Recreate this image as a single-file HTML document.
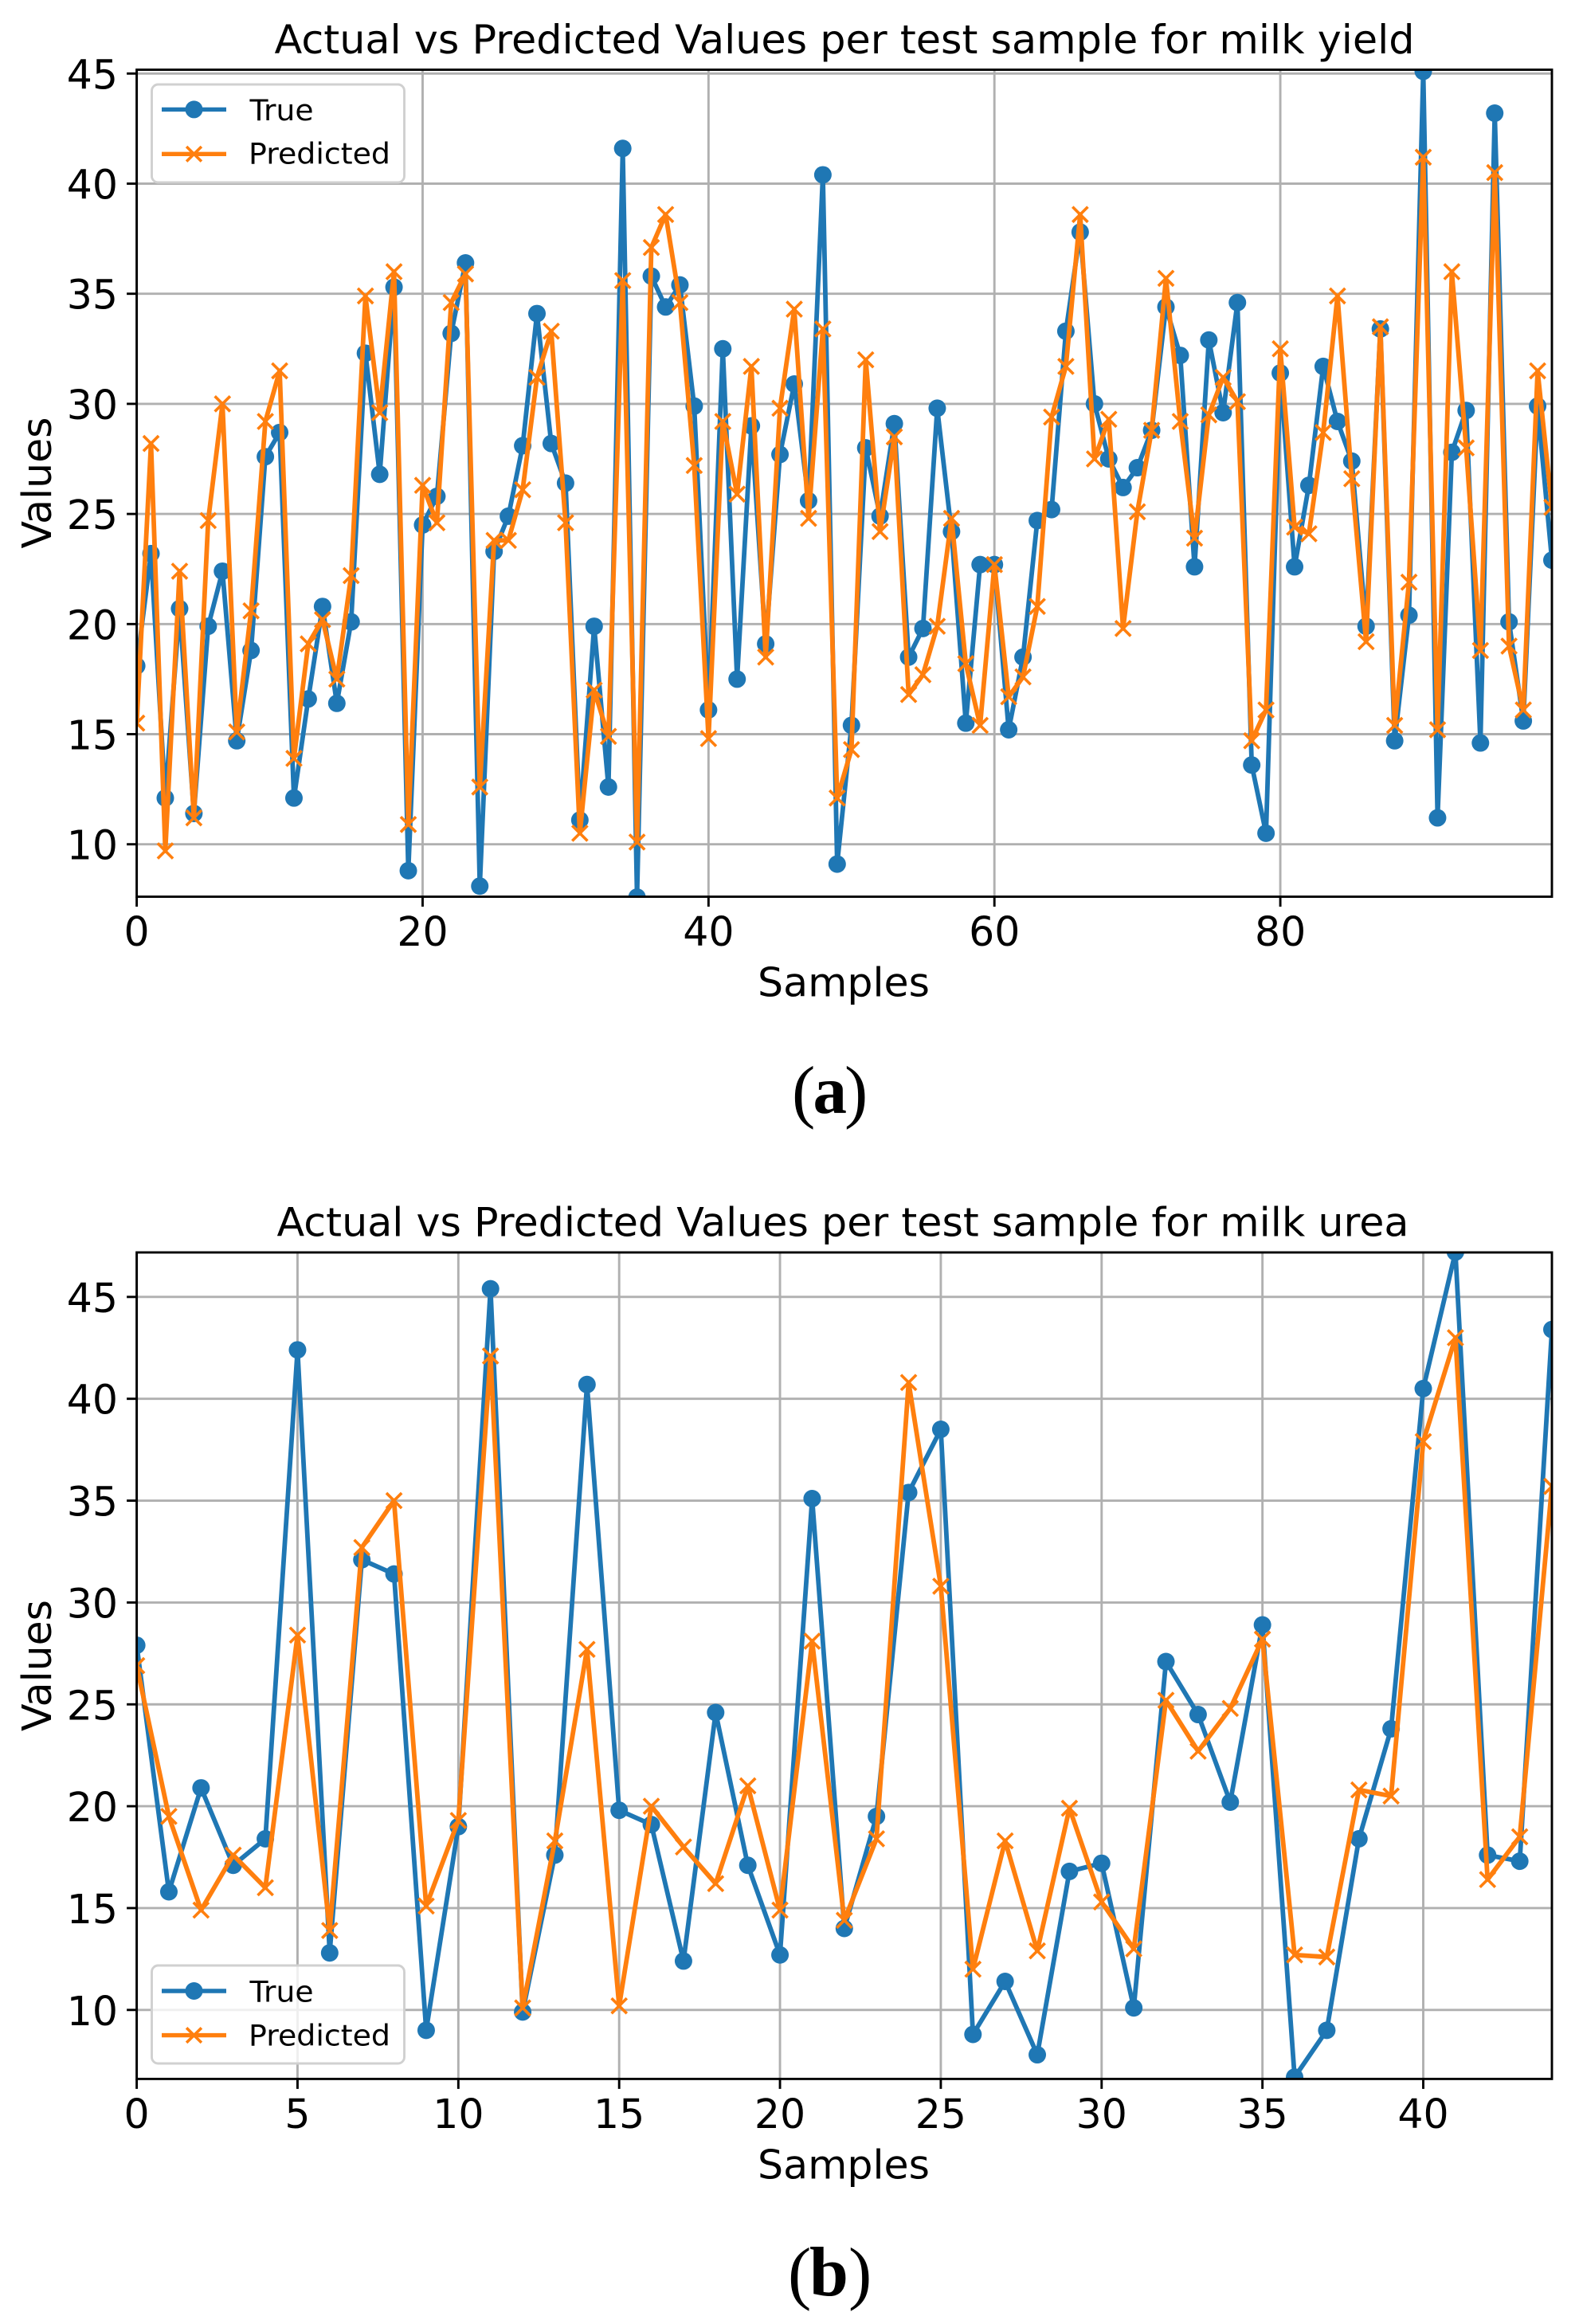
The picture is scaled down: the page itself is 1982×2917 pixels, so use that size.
<!DOCTYPE html>
<html lang="en">
<head>
<meta charset="utf-8">
<title>Actual vs Predicted Values</title>
<style>
html,body{margin:0;padding:0;background:#fff;}
svg{display:block;}
text{font-family:"DejaVu Sans",sans-serif;fill:#000;}
.cap{font-family:"Liberation Serif",serif;}
</style>
</head>
<body>
<svg id="fig" xmlns="http://www.w3.org/2000/svg" width="1982" height="2917" viewBox="0 0 1982 2917">
  <rect width="1982" height="2917" fill="#fff"/>
  <defs>
    <clipPath id="clip-a"><rect x="171.6" y="87.5" width="1776.4" height="1038"/></clipPath>
    <clipPath id="clip-b"><rect x="171.6" y="1572" width="1776.4" height="1037.4"/></clipPath>
  </defs>

  <g id="panel-a">
    <g id="a-grid"></g>
    <g id="a-marks" clip-path="url(#clip-a)"></g>
    <rect x="171.6" y="87.5" width="1776.4" height="1038" fill="none" stroke="#000" stroke-width="2.9"/>
    <g id="a-ticks"></g>
    <text x="1060" y="67" font-size="50" text-anchor="middle" textLength="1431" lengthAdjust="spacingAndGlyphs">Actual vs Predicted Values per test sample for milk yield</text>
    <text x="1059" y="1250.5" font-size="50" text-anchor="middle" textLength="216" lengthAdjust="spacingAndGlyphs">Samples</text>
    <text transform="translate(64 606) rotate(-90)" font-size="50.5" text-anchor="middle">Values</text>
    <g>
      <rect x="190.5" y="106" width="317" height="123" rx="8" fill="#fff" fill-opacity="0.8" stroke="#d0d0d0" stroke-width="2.9"/>
      <g>
        <line x1="203" x2="284" y1="137.4" y2="137.4" stroke="#1f77b4" stroke-width="5.4"/>
        <circle cx="243.5" cy="137.4" r="11" fill="#1f77b4"/>
        <text x="313.5" y="150.8" font-size="36.5" textLength="80" lengthAdjust="spacingAndGlyphs">True</text>
      </g>
      <g>
        <line x1="203" x2="284" y1="193.3" y2="193.3" stroke="#ff7f0e" stroke-width="5.4"/>
        <path d="M234.1 184 L252.9 202.6 M252.9 184 L234.1 202.6" stroke="#ff7f0e" stroke-width="3.6" fill="none"/>
        <text x="312" y="205.6" font-size="36.5" textLength="178" lengthAdjust="spacingAndGlyphs">Predicted</text>
      </g>
    </g>
  </g>
  <text class="cap"><tspan x="994" y="1399" font-size="88">(</tspan><tspan x="1020.5" y="1397" font-size="85" font-weight="bold">a</tspan><tspan x="1060" y="1399" font-size="88">)</tspan></text>

  <g id="panel-b">
    <g id="b-grid"></g>
    <g id="b-marks" clip-path="url(#clip-b)"></g>
    <rect x="171.6" y="1572" width="1776.4" height="1037.4" fill="none" stroke="#000" stroke-width="2.9"/>
    <g id="b-ticks"></g>
    <text x="1058" y="1551.4" font-size="50" text-anchor="middle" textLength="1421" lengthAdjust="spacingAndGlyphs">Actual vs Predicted Values per test sample for milk urea</text>
    <text x="1059" y="2734.6" font-size="50" text-anchor="middle" textLength="216" lengthAdjust="spacingAndGlyphs">Samples</text>
    <text transform="translate(64 2090.5) rotate(-90)" font-size="50.5" text-anchor="middle">Values</text>
    <g>
      <rect x="190.5" y="2467" width="317" height="123" rx="8" fill="#fff" fill-opacity="0.8" stroke="#d0d0d0" stroke-width="2.9"/>
      <g>
        <line x1="203" x2="284" y1="2499" y2="2499" stroke="#1f77b4" stroke-width="5.4"/>
        <circle cx="243.5" cy="2499" r="11" fill="#1f77b4"/>
        <text x="313.5" y="2512.5" font-size="36.5" textLength="80" lengthAdjust="spacingAndGlyphs">True</text>
      </g>
      <g>
        <line x1="203" x2="284" y1="2554.6" y2="2554.6" stroke="#ff7f0e" stroke-width="5.4"/>
        <path d="M234.1 2545.3 L252.9 2563.9 M252.9 2545.3 L234.1 2563.9" stroke="#ff7f0e" stroke-width="3.6" fill="none"/>
        <text x="312" y="2567.5" font-size="36.5" textLength="178" lengthAdjust="spacingAndGlyphs">Predicted</text>
      </g>
    </g>
  </g>
  <text class="cap"><tspan x="989" y="2882" font-size="88">(</tspan><tspan x="1016" y="2881" font-size="88" font-weight="bold">b</tspan><tspan x="1065" y="2882" font-size="88">)</tspan></text>
</svg>

<script>
const yieldTrue = [18.1,23.2,12.1,20.7,11.4,19.9,22.4,14.7,18.8,27.6,28.7,12.1,16.6,20.8,16.4,20.1,32.3,26.8,35.3,8.8,
  24.5,25.8,33.2,36.4,8.1,23.3,24.9,28.1,34.1,28.2,26.4,11.1,19.9,12.6,41.6,7.6,35.8,34.4,35.4,29.9,
  16.1,32.5,17.5,29.0,19.1,27.7,30.9,25.6,40.4,9.1,15.4,28.0,24.9,29.1,18.5,19.8,29.8,24.2,15.5,22.7,
  22.7,15.2,18.5,24.7,25.2,33.3,37.8,30.0,27.5,26.2,27.1,28.8,34.4,32.2,22.6,32.9,29.6,34.6,13.6,10.5,
  31.4,22.6,26.3,31.7,29.2,27.4,19.9,33.4,14.7,20.4,45.1,11.2,27.8,29.7,14.6,43.2,20.1,15.6,29.9,22.9];
const yieldPredicted = [15.5,28.2,9.7,22.4,11.2,24.7,30.0,15.1,20.6,29.2,31.5,13.9,19.1,20.2,17.5,22.2,34.9,29.6,36.0,10.9,
  26.3,24.6,34.6,35.9,12.6,23.8,23.8,26.1,31.2,33.3,24.6,10.5,17.0,14.9,35.6,10.1,37.1,38.6,34.6,27.2,
  14.8,29.2,25.9,31.7,18.5,29.8,34.3,24.8,33.4,12.1,14.3,32.0,24.2,28.5,16.8,17.7,19.9,24.8,18.2,15.4,
  22.7,16.7,17.6,20.8,29.4,31.7,38.6,27.5,29.3,19.8,25.1,28.8,35.7,29.2,23.9,29.5,31.2,30.1,14.7,16.1,
  32.5,24.4,24.1,28.7,34.9,26.6,19.2,33.5,15.4,21.9,41.2,15.2,36.0,28.0,18.8,40.5,19.0,16.1,31.5,25.3];
const ureaTrue = [27.9,15.8,20.9,17.1,18.4,42.4,12.8,32.1,31.4,9.0,19.0,45.4,9.9,17.6,40.7,19.8,19.1,12.4,24.6,17.1,
  12.7,35.1,14.0,19.5,35.4,38.5,8.8,11.4,7.8,16.8,17.2,10.1,27.1,24.5,20.2,28.9,6.7,9.0,18.4,23.8,
  40.5,47.2,17.6,17.3,43.4];
const ureaPredicted = [26.9,19.5,14.9,17.6,16.0,28.4,13.9,32.7,35.0,15.1,19.3,42.1,10.1,18.3,27.7,10.2,20.0,18.0,16.2,21.0,
  14.9,28.1,14.4,18.4,40.8,30.8,12.0,18.3,12.9,19.9,15.3,13.0,25.2,22.7,24.8,28.2,12.7,12.6,20.8,20.5,
  37.9,43.0,16.4,18.5,35.7];
const yieldXTicks = [0,20,40,60,80];
const yieldYTicks = [10,15,20,25,30,35,40,45];
const ureaXTicks = [0,5,10,15,20,25,30,35,40];
const ureaYTicks = [10,15,20,25,30,35,40,45];

const SVGNS = 'http://www.w3.org/2000/svg';
const LEFT = 171.6, RIGHT = 1948;

function make(tag, parent) {
  const el = document.createElementNS(SVGNS, tag);
  parent.appendChild(el);
  return el;
}

function drawPanel(prefix, trueVals, predVals, xTicks, yTicks, xMax, y10, pxPerUnit, top, bottom, xLabelBase) {
  const xScale = function (v) { return LEFT + (RIGHT - LEFT) * v / xMax; };
  const yScale = function (v) { return y10 - (v - 10) * pxPerUnit; };
  const grid = document.getElementById(prefix + '-grid');
  const marks = document.getElementById(prefix + '-marks');
  const ticks = document.getElementById(prefix + '-ticks');

  xTicks.forEach(function (t) {
    const x = xScale(t);
    const g = make('line', grid);
    
    
    g.setAttribute('x1', x); g.setAttribute('x2', x);
    g.setAttribute('y1', top); g.setAttribute('y2', bottom);
    g.setAttribute('stroke', '#b0b0b0'); g.setAttribute('stroke-width', '2.9');
    const m = make('line', ticks);
    
    
    m.setAttribute('x1', x);
    m.setAttribute('x2', x);
    m.setAttribute('y1', bottom); m.setAttribute('y2', bottom + 12.5);
    m.setAttribute('stroke', '#000'); m.setAttribute('stroke-width', '2.9');
    const l = make('text', ticks);
    
    
    l.setAttribute('x', x); l.setAttribute('y', xLabelBase);
    l.setAttribute('font-size', '50.5'); l.setAttribute('text-anchor', 'middle');
    l.textContent = String(t);
  });

  yTicks.forEach(function (t) {
    const y = yScale(t);
    const g = make('line', grid);
    
    
    g.setAttribute('x1', LEFT); g.setAttribute('x2', RIGHT);
    g.setAttribute('y1', y); g.setAttribute('y2', y);
    g.setAttribute('stroke', '#b0b0b0'); g.setAttribute('stroke-width', '2.9');
    const m = make('line', ticks);
    
    
    m.setAttribute('x1', LEFT - 12.5); m.setAttribute('x2', LEFT);
    m.setAttribute('y1', y); m.setAttribute('y2', y);
    m.setAttribute('stroke', '#000'); m.setAttribute('stroke-width', '2.9');
    const l = make('text', ticks);
    
    
    l.setAttribute('x', 148); l.setAttribute('y', y + 19);
    l.setAttribute('font-size', '50.5'); l.setAttribute('text-anchor', 'end');
    l.textContent = String(t);
  });

  const pts = function (vals) {
    return vals.map(function (v, i) { return xScale(i).toFixed(2) + ',' + yScale(v).toFixed(2); }).join(' ');
  };

  const trueLine = make('polyline', marks);
  
  
  trueLine.setAttribute('points', pts(trueVals));
  trueLine.setAttribute('fill', 'none');
  trueLine.setAttribute('stroke', '#1f77b4');
  trueLine.setAttribute('stroke-width', '5.8');
  trueLine.setAttribute('stroke-linejoin', 'round');

  trueVals.forEach(function (v, i) {
    const c = make('circle', marks);
    
    
    c.setAttribute('cx', xScale(i)); c.setAttribute('cy', yScale(v));
    c.setAttribute('r', '11'); c.setAttribute('fill', '#1f77b4');
  });

  const predLine = make('polyline', marks);
  
  
  predLine.setAttribute('points', pts(predVals));
  predLine.setAttribute('fill', 'none');
  predLine.setAttribute('stroke', '#ff7f0e');
  predLine.setAttribute('stroke-width', '5.8');
  predLine.setAttribute('stroke-linejoin', 'round');

  predVals.forEach(function (v, i) {
    const x = xScale(i), y = yScale(v), h = 9.6;
    const p = make('path', marks);
    
    
    p.setAttribute('d', 'M' + (x - h) + ' ' + (y - h) + ' L' + (x + h) + ' ' + (y + h) + ' M' + (x + h) + ' ' + (y - h) + ' L' + (x - h) + ' ' + (y + h));
    p.setAttribute('stroke', '#ff7f0e');
    p.setAttribute('stroke-width', '3.6');
    p.setAttribute('fill', 'none');
  });
}

drawPanel('a', yieldTrue, yieldPredicted, yieldXTicks, yieldYTicks, 99, 1059.7, 27.64, 87.5, 1125.5, 1187);
drawPanel('b', ureaTrue, ureaPredicted, ureaXTicks, ureaYTicks, 44, 2522.8, 25.57, 1572, 2609.4, 2671);
</script>
</body>
</html>
